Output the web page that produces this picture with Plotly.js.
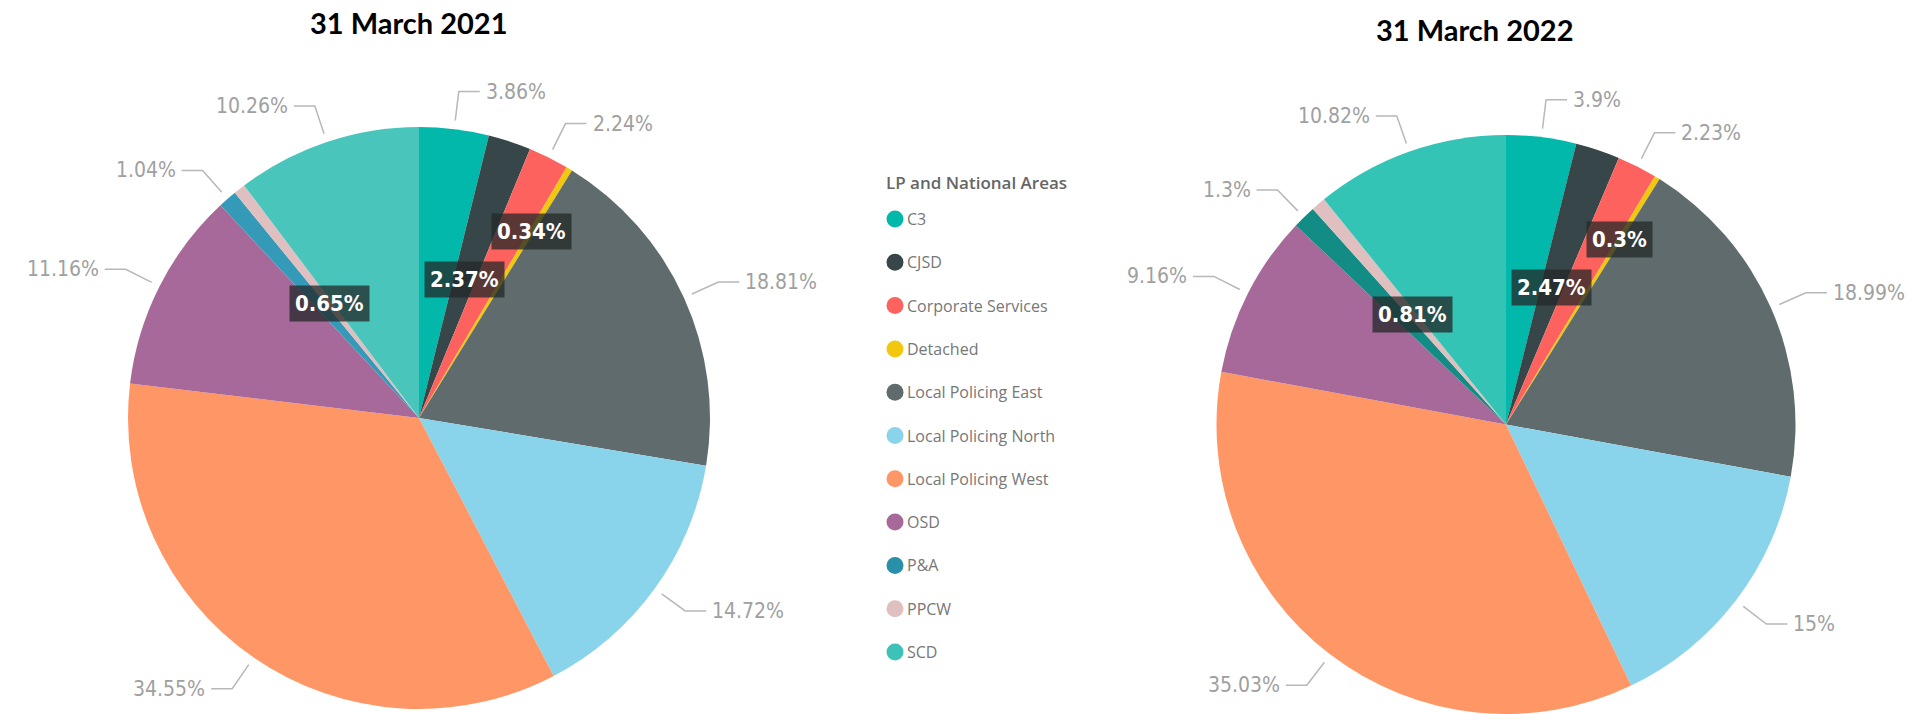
<!DOCTYPE html>
<html><head><meta charset="utf-8">
<script src="https://cdn.plot.ly/plotly-3.0.1.min.js"></script>
<style>html,body{margin:0;padding:0;background:#fff;overflow:hidden}</style>
</head><body><div id="chart" style="width:1908px;height:714px"></div>
<script>
// ---------- DATA ----------
const categories = ["C3","CJSD","Corporate Services","Detached","Local Policing East","Local Policing North","Local Policing West","OSD","P&A","PPCW","SCD"];
const values2021 = [3.86,2.37,2.24,0.34,18.81,14.72,34.55,11.16,1.04,0.65,10.26];
const values2022 = [3.9,2.47,2.23,0.3,18.99,15,35.03,9.16,1.3,0.81,10.82];
const chartTitles = ["31 March 2021","31 March 2022"];
const legendTitle = "LP and National Areas";

// ---------- STYLE ----------
const colors2021 = ["#01B8AA","#374649","#FD625E","#F2C80F","#5F6B6D","#8AD4EB","#FE9666","#A66999","#3599B8","#DFBFBF","#4AC5BB"];
const colors2022 = ["#01B8AA","#374649","#FD625E","#F2C80F","#5F6B6D","#8AD4EB","#FE9666","#A66999","#138C85","#DFBFBF","#33C4B6"];
const legendColors = ["#01B8AA","#374649","#FD625E","#F2C80F","#5F6B6D","#8AD4EB","#FE9666","#A66999","#2A8FA8","#DFBFBF","#3CC2B6"];
// slices whose label sits inside the pie (radial position as fraction of radius)
const insideSpots = {"CJSD":0.5,"Detached":0.75,"PPCW":0.5};

const W = 1908, H = 714;
const pies = [
  {values: values2021, colors: colors2021, cx: 419, cy: 418, r: 291, title: chartTitles[0], tx: 409, ty: 23},
  {values: values2022, colors: colors2022, cx: 1506, cy: 425, r: 290, title: chartTitles[1], tx: 1475, ty: 30}
];
const labelFont = "DejaVu Sans Condensed, Liberation Sans Narrow, Roboto, sans-serif";
const px2x = p => p / W;
const px2y = p => 1 - p / H;

const traces = [], annotations = [], shapes = [];

pies.forEach(p => {
  traces.push({
    type: "pie", labels: categories, values: p.values, sort: false,
    direction: "clockwise", rotation: 0, textinfo: "none",
    hovertemplate: "%{label}: %{value}%<extra></extra>",
    marker: {colors: p.colors, line: {width: 0}},
    showlegend: false,
    domain: {x: [px2x(p.cx - p.r), px2x(p.cx + p.r)], y: [px2y(p.cy + p.r), px2y(p.cy - p.r)]}
  });
  annotations.push({
    xref: "paper", yref: "paper", x: px2x(p.tx), y: px2y(p.ty), xanchor: "center", yanchor: "middle",
    text: "<b>" + p.title + "</b>", showarrow: false,
    font: {family: "Lato, Open Sans, sans-serif", size: 29, color: "#000"}
  });
  const total = p.values.reduce((a, b) => a + b, 0);
  let cum = 0;
  p.values.forEach((v, i) => {
    const th = 2 * Math.PI * (cum + v / 2) / total;
    cum += v;
    const pt = k => [p.cx + k * p.r * Math.sin(th), p.cy - k * p.r * Math.cos(th)];
    const txt = v + "%";
    const name = categories[i];
    if (name in insideSpots) {
      const [x, y] = pt(insideSpots[name]);
      annotations.push({
        xref: "paper", yref: "paper", x: px2x(x), y: px2y(y), xanchor: "center", yanchor: "middle",
        text: "<b>" + txt + "</b>", showarrow: false, bgcolor: "rgba(35,40,40,0.75)", borderpad: 5,
        font: {family: labelFont, size: 22, color: "#ffffff"}
      });
    } else {
      const side = Math.sin(th) >= 0 ? 1 : -1;
      const a = pt(1.03), b = pt(1.13);
      const c = [b[0] + side * 21, b[1]];
      shapes.push({
        type: "path", xref: "paper", yref: "paper",
        path: `M ${px2x(a[0])} ${px2y(a[1])} L ${px2x(b[0])} ${px2y(b[1])} L ${px2x(c[0])} ${px2y(c[1])}`,
        line: {color: "#b8b8b8", width: 1.5}
      });
      annotations.push({
        xref: "paper", yref: "paper", x: px2x(c[0] + side * 4), y: px2y(c[1]),
        xanchor: side > 0 ? "left" : "right", yanchor: "middle",
        text: txt, showarrow: false,
        font: {family: labelFont, size: 21, color: "#a0a0a0"}
      });
    }
  });
});

// legend
annotations.push({
  xref: "paper", yref: "paper", x: px2x(884), y: px2y(183), xanchor: "left", yanchor: "middle",
  text: legendTitle, showarrow: false,
  font: {family: "Open Sans, sans-serif", size: 17, color: "#666", weight: 600}
});
categories.forEach((name, i) => {
  const y = 219 + i * 43.3;
  shapes.push({
    type: "circle", xref: "paper", yref: "paper", xsizemode: "pixel", ysizemode: "pixel",
    xanchor: px2x(895), yanchor: px2y(y), x0: -8.5, x1: 8.5, y0: -8.5, y1: 8.5,
    fillcolor: legendColors[i], line: {width: 0}
  });
  annotations.push({
    xref: "paper", yref: "paper", x: px2x(905), y: px2y(y), xanchor: "left", yanchor: "middle",
    text: name, showarrow: false,
    font: {family: "Open Sans, sans-serif", size: 16, color: "#777"}
  });
});

Plotly.newPlot("chart", traces, {
  width: W, height: H, margin: {l: 0, r: 0, t: 0, b: 0},
  paper_bgcolor: "#fff", plot_bgcolor: "#fff",
  showlegend: false, annotations: annotations, shapes: shapes
}, {displayModeBar: false, staticPlot: true});
</script>
</body></html>
